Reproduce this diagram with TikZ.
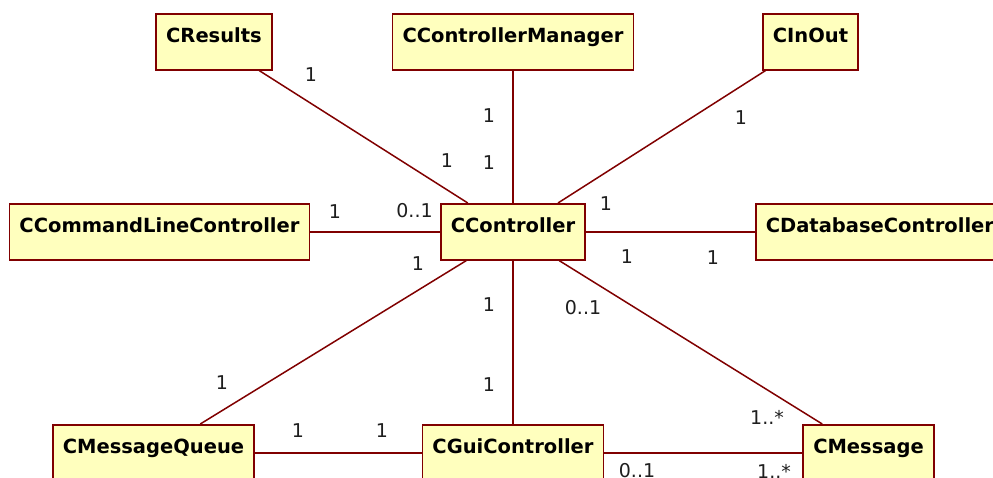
\documentclass[tikz,border=0pt]{standalone}
\usepackage{fontspec}
\setmainfont{DejaVu Sans}
\definecolor{umlline}{RGB}{128,0,0}
\definecolor{umlfill}{RGB}{255,255,190}
\definecolor{multtext}{RGB}{30,30,30}
\begin{document}
\begin{tikzpicture}[x=1pt,y=-1pt,
  classbox/.style={draw=umlline, fill=umlfill, line width=1.6pt, rectangle,
    inner xsep=10pt, inner ysep=0pt, text height=29pt, text depth=27pt,
    font=\fontsize{19.5}{20}\selectfont\bfseries, anchor=north},
  assoc/.style={draw=umlline, line width=1.5pt},
  mult/.style={inner sep=0pt, text=multtext, font=\fontsize{19}{20}\selectfont}]
\useasboundingbox (0,0) rectangle (993,477);

% classes
\node[classbox] (cres)  at (214,13)   {CResults};
\node[classbox] (cmgr)  at (513,13)   {CControllerManager};
\node[classbox] (cio)   at (810.5,13) {CInOut};
\node[classbox] (ccl)   at (159.5,203){CCommandLineController};
\node[classbox] (ctrl)  at (513,203)  {CController};
\node[classbox, anchor=north west] (cdb) at (755,203) {CDatabaseController};
\node[classbox] (cmq)   at (153.5,424){CMessageQueue};
\node[classbox] (cgui)  at (513,424)  {CGuiController};
\node[classbox] (cmsg)  at (868.5,424){CMessage};

% associations
\begin{scope}[on background layer/.style={}]
\draw[assoc] (cres) -- (ctrl);
\draw[assoc] (cmgr) -- (ctrl);
\draw[assoc] (cio)  -- (ctrl);
\draw[assoc] (ccl)  -- (ctrl);
\draw[assoc] (ctrl) -- (cdb);
\draw[assoc] (ctrl) -- (cmq);
\draw[assoc] (ctrl) -- (cgui);
\draw[assoc] (ctrl) -- (cmsg);
\draw[assoc] (cmq)  -- (cgui);
\draw[assoc] (cgui) -- (cmsg);
\end{scope}

% multiplicities
\node[mult] (m1)  at (311,75)   {1};
\node[mult] (m2)  at (447,161)  {1};
\node[mult] (m3)  at (489,116)  {1};
\node[mult] (m4)  at (489,163)  {1};
\node[mult] (m5)  at (741,118)  {1};
\node[mult] (m6)  at (606,204)  {1};
\node[mult] (m7)  at (335,212)  {1};
\node[mult] (m8)  at (414.5,211){0..1};
\node[mult] (m9)  at (627,257)  {1};
\node[mult] (m10) at (713,258)  {1};
\node[mult] (m11) at (418,264)  {1};
\node[mult] (m12) at (222,383)  {1};
\node[mult] (m13) at (489,305)  {1};
\node[mult] (m14) at (489,385)  {1};
\node[mult] (m15) at (583,308)  {0..1};
\node[mult] (m16) at (767,417)  {1..*};
\node[mult] (m17) at (298,431)  {1};
\node[mult] (m18) at (382,431)  {1};
\node[mult] (m19) at (637,471)  {0..1};
\node[mult] (m20) at (774,471)  {1..*};
\end{tikzpicture}
\end{document}
